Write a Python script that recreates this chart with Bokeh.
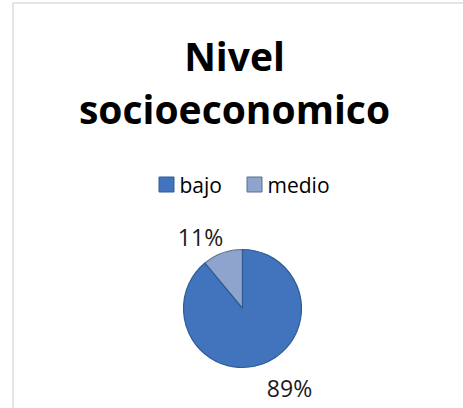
import numpy as np
from bokeh.plotting import figure
from bokeh.models import Range1d, Label, BoxAnnotation, ColumnDataSource
from bokeh.embed import file_html
from bokeh.resources import INLINE

title_lines = ["Nivel", "socioeconomico"]
categories = ["bajo", "medio"]
values = [89, 11]
labels = ["89%", "11%"]
colors = ["#4174BC", "#8EA4CC"]
edge_colors = ["#2F5C96", "#5D6F8F"]

W, H = 463, 408
p = figure(width=W, height=H, output_backend="svg", toolbar_location=None,
           x_range=Range1d(0, W), y_range=Range1d(0, H), min_border=0)
p.axis.visible = False
p.grid.visible = False
p.outline_line_color = None
p.background_fill_color = "white"
p.border_fill_color = "white"

def Y(y_page):
    return H - y_page

def X(x_page):
    return x_page

# chart frame
p.add_layout(BoxAnnotation(left=X(12.5), right=X(480), top=Y(2.5), bottom=Y(430),
                           fill_alpha=0, line_color="#8c8c8c", line_width=1.5))

font = "Open Sans"
p.add_layout(Label(x=X(234), y=Y(55), text=title_lines[0], text_font=font, text_font_style="bold",
                   text_font_size="39px", text_align="center", text_baseline="middle", text_color="black"))
p.add_layout(Label(x=X(234), y=Y(108), text=title_lines[1], text_font=font, text_font_style="bold",
                   text_font_size="39px", text_align="center", text_baseline="middle", text_color="black"))

# pie
cx, cy, r = X(242), Y(308), 59
total = sum(values)
fr = np.array(values[::-1], dtype=float) / total  # medio first, counterclockwise from 12 o'clock
starts = np.pi / 2 + np.concatenate([[0], np.cumsum(fr)[:-1]]) * 2 * np.pi
ends = np.pi / 2 + np.cumsum(fr) * 2 * np.pi
src = ColumnDataSource(dict(start=starts, end=ends,
                            color=colors[::-1], edge=edge_colors[::-1]))
p.wedge(x=cx, y=cy, radius=r, start_angle="start", end_angle="end",
        fill_color="color", line_color="edge", line_width=1.2, source=src)

# percentage labels
p.add_layout(Label(x=X(200), y=Y(236), text=labels[1], text_font=font, text_font_size="23px",
                   text_align="center", text_baseline="middle", text_color="#1a1a1a"))
p.add_layout(Label(x=X(289), y=Y(387), text=labels[0], text_font=font, text_font_size="23px",
                   text_align="center", text_baseline="middle", text_color="#1a1a1a"))

# legend
leg_x = [X(166), X(254)]
leg_tx = [X(179), X(267)]
ly = Y(184)
p.scatter(x=leg_x, y=[ly, ly], marker="square", size=15, fill_color=colors,
          line_color=edge_colors, line_width=1)
for tx, c in zip(leg_tx, categories):
    p.add_layout(Label(x=tx, y=ly, text=c, text_font=font, text_font_size="21px",
                       text_align="left", text_baseline="middle", text_color="black"))

open("out.html", "w").write(file_html(p, INLINE))
